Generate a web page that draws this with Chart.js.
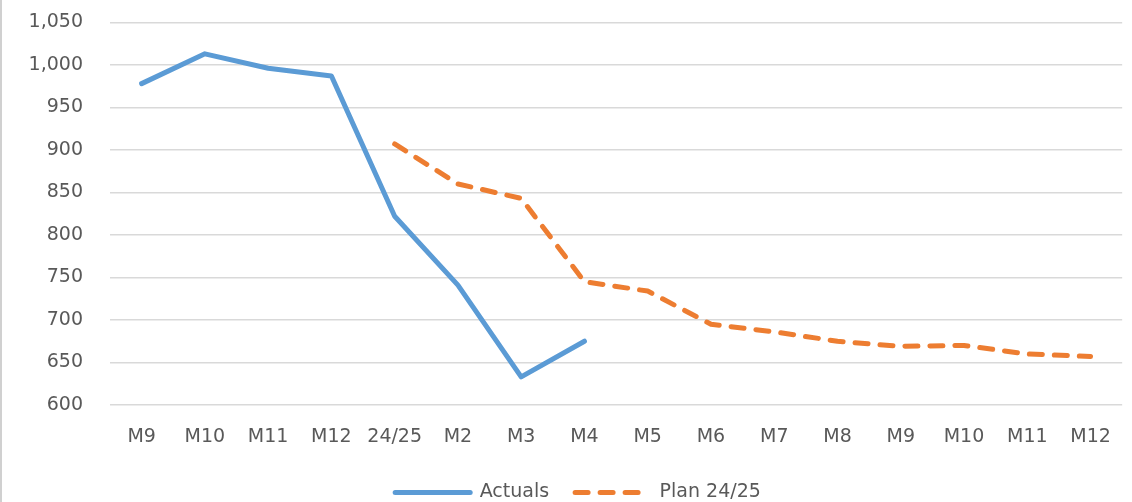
<!DOCTYPE html>
<html>
<head>
<meta charset="utf-8">
<script src="https://cdn.jsdelivr.net/npm/chart.js@4"></script>
<style>
  html, body { margin: 0; padding: 0; background: #fff; overflow: hidden; }
  #wrap { width: 1132px; height: 502px; overflow: hidden; position: relative; border-left: 2px solid #d0d0d0; box-sizing: border-box; }
  #box { width: 1130px; height: 528px; margin-top: -16px; }
</style>
</head>
<body>
<div id="wrap"><div id="box"><canvas id="myChart"></canvas></div></div>
<script>
const labels = ['M9', 'M10', 'M11', 'M12', '24/25', 'M2', 'M3', 'M4', 'M5', 'M6', 'M7', 'M8', 'M9', 'M10', 'M11', 'M12'];
const actuals = [978, 1013, 996, 987, 822, 741, 633, 675, null, null, null, null, null, null, null, null];
const plan = [null, null, null, null, 907, 860, 843, 745, 734, 695, 686, 675, 669, 670, 660, 657];
const yTicks = [600, 650, 700, 750, 800, 850, 900, 950, 1000, 1050];

const grey = '#595959';
const tickFont = { family: 'DejaVu Sans', size: 19 };

const data = {
  labels: labels,
  datasets: [{
    label: 'Actuals',
    data: actuals,
    borderColor: '#5b9bd5',
    backgroundColor: '#5b9bd5',
    borderWidth: 5,
    borderCapStyle: 'round',
    borderJoinStyle: 'round',
    pointRadius: 0,
    tension: 0
  },
  {
    label: 'Plan 24/25',
    data: plan,
    borderColor: '#ed7d31',
    backgroundColor: '#ed7d31',
    borderWidth: 5,
    borderDash: [13, 12],
    borderCapStyle: 'round',
    borderJoinStyle: 'round',
    pointRadius: 0,
    tension: 0
  }]
};

// legend items take the line's dash and width, not the point's
function legendLabels(chart) {
  return Chart.defaults.plugins.legend.labels.generateLabels(chart).map(item => {
    const ds = chart.data.datasets[item.datasetIndex];
    item.lineDash = ds.borderDash || [];
    item.lineWidth = ds.borderWidth;
    item.lineCap = 'round';
    item.strokeStyle = ds.borderColor;
    return item;
  });
}

// nudge the legend a little right, as in the original
const legendShift = {
  id: 'legendShift',
  afterLayout(chart) {
    chart.legend.left += 14;
    chart.legend.right += 14;
  }
};

const config = {
  type: 'line',
  data,
  plugins: [legendShift],
  options: {
    responsive: true,
    maintainAspectRatio: false,
    animation: false,
    layout: { padding: { top: 5, right: 6, left: 0, bottom: 0 } },
    plugins: {
      tooltip: { enabled: false },
      legend: {
        position: 'bottom',
        labels: {
          usePointStyle: true,
          pointStyle: 'line',
          pointStyleWidth: 75,
          color: grey,
          padding: 26,
          font: tickFont,
          generateLabels: legendLabels
        }
      }
    },
    scales: {
      x: {
        offset: true,
        grid: { display: false, drawTicks: false },
        border: { display: false },
        ticks: {
          color: grey,
          padding: 21,
          maxRotation: 0,
          autoSkip: false,
          font: tickFont
        },
        afterFit: function(scale) { scale.height = 52; }
      },
      y: {
        min: 600,
        max: 1050,
        afterBuildTicks: function(scale) {
          scale.ticks = yTicks.map(v => ({ value: v }));
        },
        grid: { color: '#d9d9d9', lineWidth: 1.5, drawTicks: false },
        border: { display: false },
        ticks: {
          color: grey,
          padding: 27,
          font: tickFont,
          callback: v => v.toLocaleString('en-US')
        },
        afterFit: function(scale) { scale.width = 108; }
      }
    }
  }
};

const myChart = new Chart(document.getElementById('myChart'), config);
</script>
</body>
</html>
